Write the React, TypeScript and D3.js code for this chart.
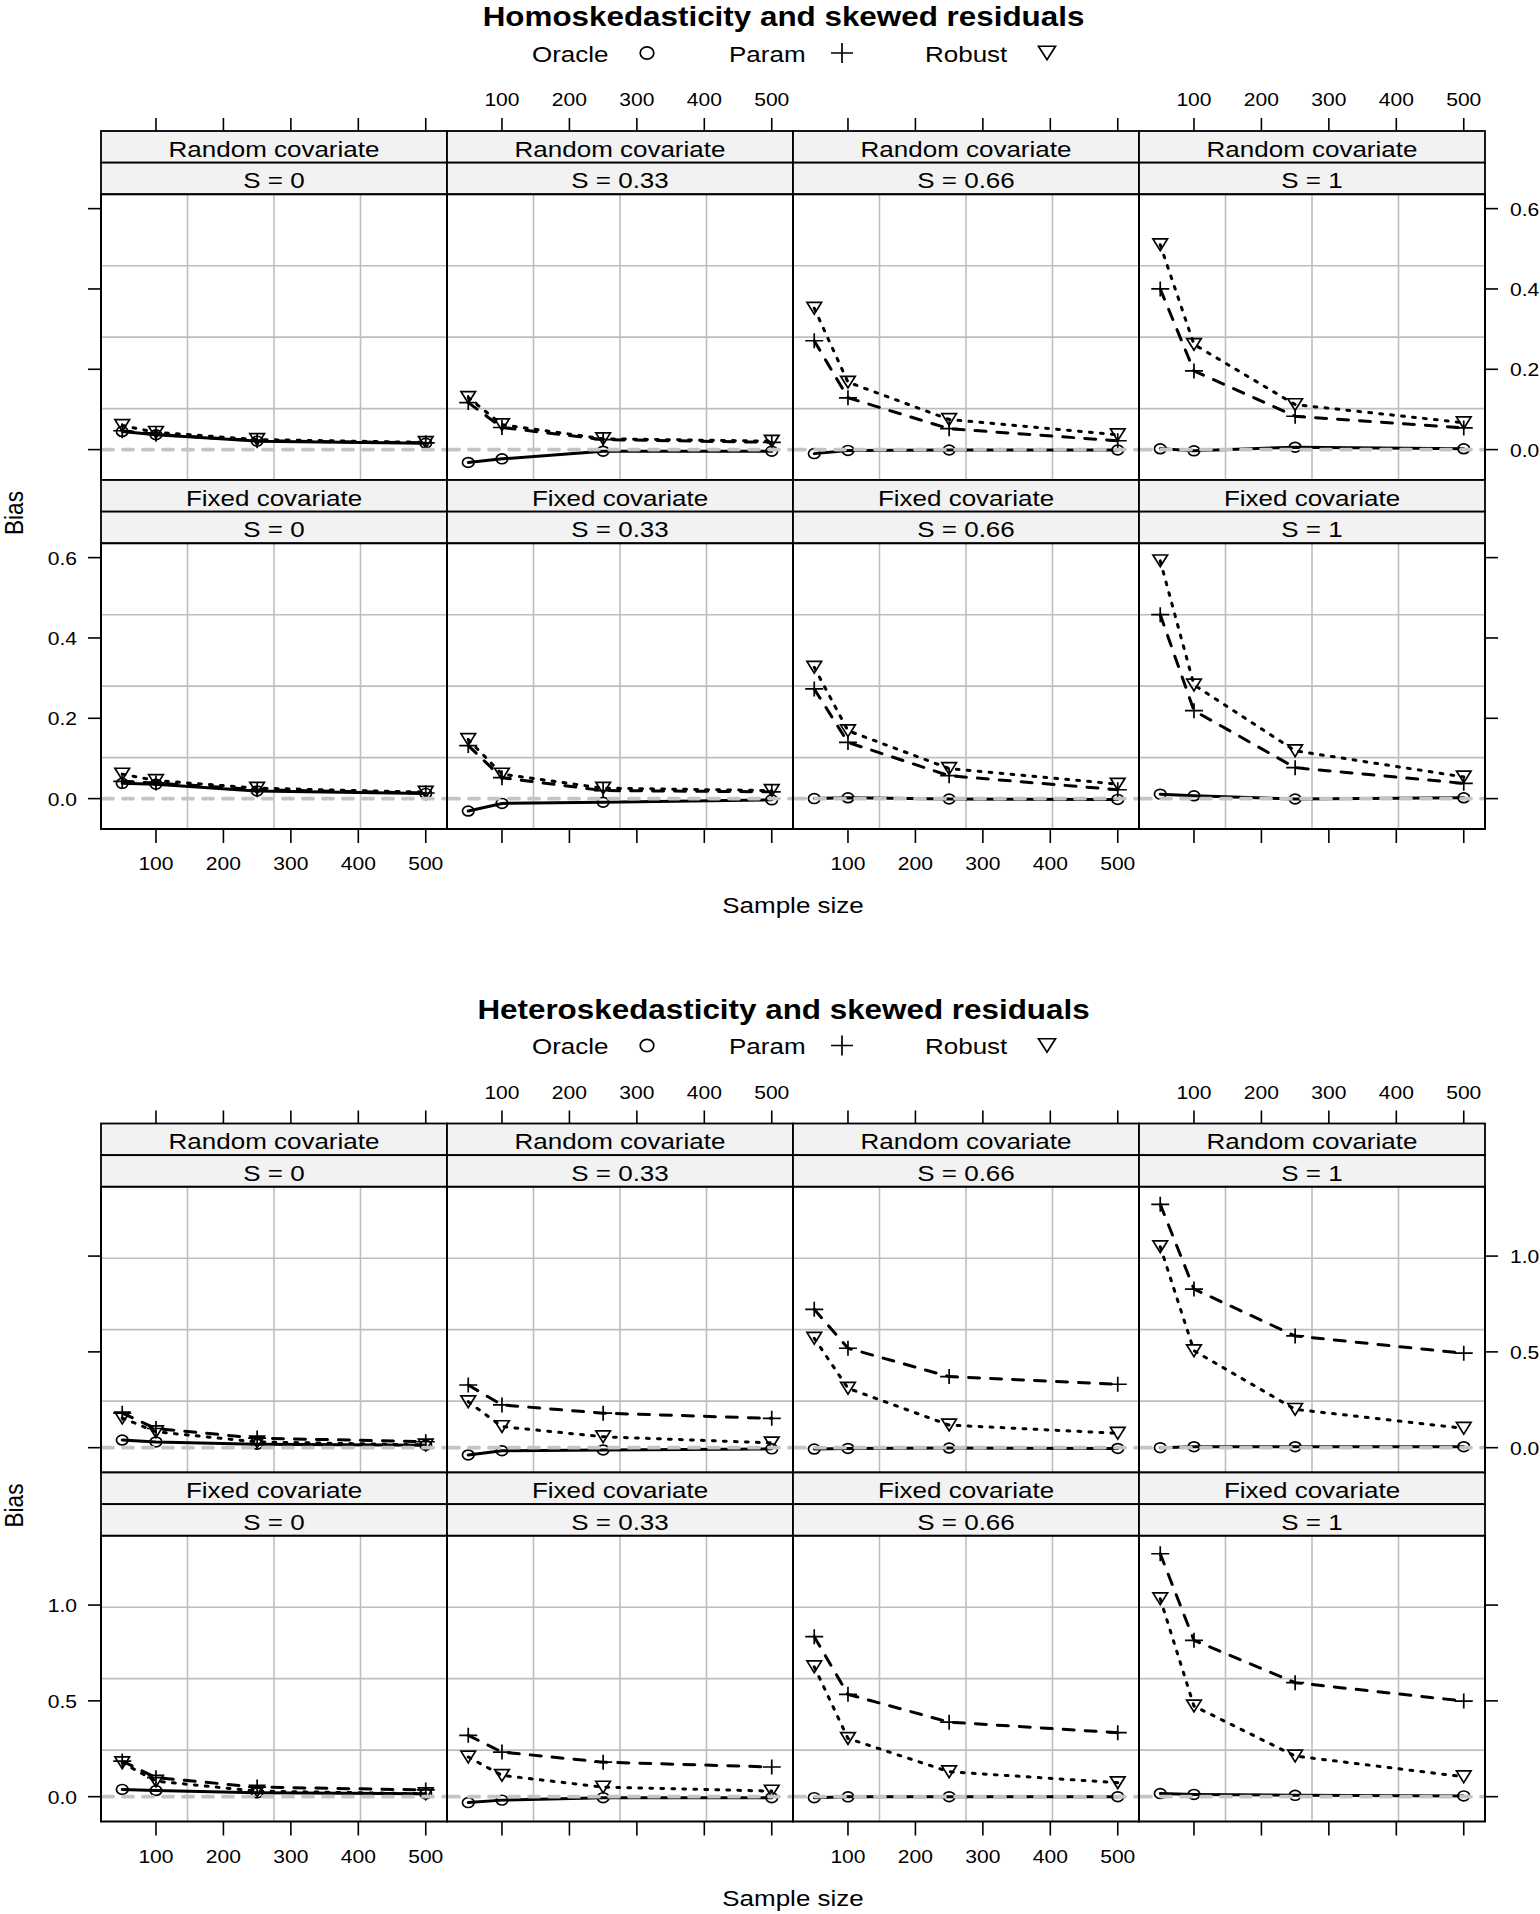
import React from 'react';
import * as d3 from 'd3';

// Sample sizes on the x axis and the tick labels
const sampleSizes = [50, 100, 250, 500];
const xTicks = [100, 200, 300, 400, 500];
const covariateLabels = ['Random covariate', 'Fixed covariate'];
const sLabels = ['S = 0', 'S = 0.33', 'S = 0.66', 'S = 1'];
const methodNames = ['Oracle', 'Param', 'Robust'];
const chartTitles = [
  'Homoskedasticity and skewed residuals',
  'Heteroskedasticity and skewed residuals',
];
const yTicksHomo = [0, 0.2, 0.4, 0.6];
const yTicksHetero = [0, 0.5, 1.0];

// Bias, one row per S level, one value per sample size
const homoRandomOracle = [
  [0.045, 0.037, 0.021, 0.016],
  [-0.032, -0.023, -0.004, -0.004],
  [-0.01, -0.002, -0.001, -0.001],
  [0.002, -0.003, 0.006, 0.002],
];
const homoRandomParam = [
  [0.047, 0.038, 0.022, 0.017],
  [0.117, 0.055, 0.025, 0.018],
  [0.271, 0.129, 0.052, 0.022],
  [0.4, 0.196, 0.083, 0.054],
];
const homoRandomRobust = [
  [0.06, 0.043, 0.025, 0.018],
  [0.13, 0.062, 0.027, 0.021],
  [0.352, 0.168, 0.075, 0.037],
  [0.51, 0.262, 0.112, 0.067],
];
const homoFixedOracle = [
  [0.038, 0.036, 0.019, 0.013],
  [-0.031, -0.012, -0.009, -0.003],
  [0.0, 0.002, -0.001, -0.002],
  [0.011, 0.007, -0.001, 0.002],
];
const homoFixedParam = [
  [0.043, 0.039, 0.022, 0.014],
  [0.132, 0.052, 0.02, 0.017],
  [0.273, 0.14, 0.057, 0.022],
  [0.458, 0.219, 0.077, 0.038],
];
const homoFixedRobust = [
  [0.061, 0.045, 0.026, 0.016],
  [0.147, 0.061, 0.026, 0.02],
  [0.327, 0.169, 0.075, 0.036],
  [0.592, 0.283, 0.119, 0.054],
];

const heteroRandomOracle = [
  [0.04, 0.03, 0.018, 0.013],
  [-0.038, -0.016, -0.012, -0.006],
  [-0.007, -0.004, -0.002, -0.004],
  [0.0, 0.005, 0.005, 0.005],
];
const heteroRandomParam = [
  [0.18, 0.1, 0.05, 0.031],
  [0.327, 0.223, 0.18, 0.153],
  [0.722, 0.519, 0.371, 0.331],
  [1.27, 0.828, 0.583, 0.493],
];
const heteroRandomRobust = [
  [0.155, 0.083, 0.03, 0.014],
  [0.24, 0.11, 0.057, 0.025],
  [0.571, 0.31, 0.118, 0.075],
  [1.049, 0.506, 0.2, 0.101],
];
const heteroFixedOracle = [
  [0.038, 0.032, 0.02, 0.015],
  [-0.031, -0.018, -0.005, -0.005],
  [-0.005, -0.001, 0.0, 0.0],
  [0.016, 0.012, 0.007, 0.004],
];
const heteroFixedParam = [
  [0.186, 0.099, 0.05, 0.035],
  [0.32, 0.233, 0.18, 0.155],
  [0.835, 0.534, 0.389, 0.334],
  [1.268, 0.816, 0.595, 0.499],
];
const heteroFixedRobust = [
  [0.177, 0.081, 0.029, 0.015],
  [0.207, 0.111, 0.05, 0.029],
  [0.678, 0.304, 0.13, 0.073],
  [1.033, 0.473, 0.212, 0.104],
];

const charts = [
  {
    title: chartTitles[0],
    yTicks: yTicksHomo,
    rows: [
      [homoRandomOracle, homoRandomParam, homoRandomRobust],
      [homoFixedOracle, homoFixedParam, homoFixedRobust],
    ],
  },
  {
    title: chartTitles[1],
    yTicks: yTicksHetero,
    rows: [
      [heteroRandomOracle, heteroRandomParam, heteroRandomRobust],
      [heteroFixedOracle, heteroFixedParam, heteroFixedRobust],
    ],
  },
];

// layout
const W = 1540;
const H = 1914;
const SX = 1.15; // the picture is stretched sideways
const FONT = '"Liberation Sans", Arial, Helvetica, sans-serif';
const chartOffsets = [0, 992.5];
const gridLeft = 101;
const colW = 346;
const rowTop = 131;
const stripH = 31.65;
const panelH = 285.7;
const rowH = 2 * stripH + panelH;
const nCols = 4;
const tickLen = 13;
const baseSize = 22.6;
const tickSize = 18.3;
const titleSize = 27.3;

const lineDash = [null, '11 11', '2.8 8.2'];

// lattice style padding of the data range
const padRange = (ext: [number, number], f = 0.07): [number, number] => {
  const r = ext[1] - ext[0];
  return [ext[0] - r * f, ext[1] + r * f];
};

const fmt = d3.format('.1f');

function T({ x, y, size = baseSize, anchor = 'middle', weight, rotate, children }: any) {
  const tr = `translate(${x},${y}) scale(${SX},1)` + (rotate ? ` rotate(${rotate})` : '');
  return (
    <text transform={tr} fontSize={size} textAnchor={anchor} fontWeight={weight} fontFamily={FONT} fill="#000">
      {children}
    </text>
  );
}

function Marker({ kind, x, y, big = false }: { kind: number; x: number; y: number; big?: boolean }) {
  const sw = 1.7;
  if (kind === 0) {
    return <ellipse cx={x} cy={y} rx={big ? 6.8 : 5.8} ry={big ? 6.1 : 4.9} fill="none" stroke="#000" strokeWidth={sw} />;
  }
  if (kind === 1) {
    const hx = big ? 11 : 9;
    const hy = big ? 10 : 7.5;
    return (
      <path d={`M${x - hx},${y}H${x + hx}M${x},${y - hy}V${y + hy}`} stroke="#000" strokeWidth={sw} fill="none" />
    );
  }
  const w = big ? 8.5 : 7.3;
  const h = big ? 13.5 : 11.7;
  return (
    <path
      d={`M${x - w},${y - h / 2}L${x + w},${y - h / 2}L${x},${y + h / 2}Z`}
      stroke="#000"
      strokeWidth={sw}
      fill="none"
      strokeLinejoin="miter"
    />
  );
}

function Chart({ chart, offset }: { chart: (typeof charts)[number]; offset: number }) {
  const allY = chart.rows.flat(3) as number[];
  const yDomain = padRange(d3.extent(allY) as [number, number]);
  const xDomain = padRange(d3.extent(sampleSizes) as [number, number]);
  const legendText = [532, 729, 925];
  const legendSym = [647, 842, 1047];

  return (
    <g transform={`translate(0,${offset})`}>
      <T x={783.5} y={26} size={titleSize} weight="bold">
        {chart.title}
      </T>
      {methodNames.map((m, i) => (
        <g key={m}>
          <T x={legendText[i]} y={61.5} anchor="start">
            {m}
          </T>
          <Marker kind={i} x={legendSym[i]} y={53} big />
        </g>
      ))}

      {chart.rows.map((rowData, r) => {
        const top = rowTop + r * rowH;
        const pTop = top + 2 * stripH;
        const pBot = pTop + panelH;
        const y = d3.scaleLinear().domain(yDomain).range([pBot, pTop]);
        const gridRight = gridLeft + nCols * colW;
        return (
          <g key={r}>
            {/* y ticks left and right */}
            {chart.yTicks.map((t) => (
              <g key={t}>
                <line x1={gridLeft - tickLen} x2={gridLeft} y1={y(t)} y2={y(t)} stroke="#000" strokeWidth={1.6} />
                <line x1={gridRight} x2={gridRight + tickLen} y1={y(t)} y2={y(t)} stroke="#000" strokeWidth={1.6} />
                {r === 1 && (
                  <T x={77} y={y(t) + 7} size={tickSize} anchor="end">
                    {fmt(t)}
                  </T>
                )}
                {r === 0 && (
                  <T x={gridRight + 25} y={y(t) + 7} size={tickSize} anchor="start">
                    {fmt(t)}
                  </T>
                )}
              </g>
            ))}

            {sLabels.map((s, c) => {
              const left = gridLeft + c * colW;
              const x = d3.scaleLinear().domain(xDomain).range([left, left + colW]);
              const series = rowData.map((m) => m[c]);
              const line = d3
                .line<number>()
                .x((_, i) => x(sampleSizes[i]))
                .y((v) => y(v));
              return (
                <g key={s}>
                  {/* strips */}
                  <rect x={left} y={top} width={colW} height={stripH} fill="#f2f2f2" stroke="#000" strokeWidth={1.8} />
                  <rect x={left} y={top + stripH} width={colW} height={stripH} fill="#f2f2f2" stroke="#000" strokeWidth={1.8} />
                  <T x={left + colW / 2} y={top + stripH / 2 + 10}>
                    {covariateLabels[r]}
                  </T>
                  <T x={left + colW / 2} y={top + stripH * 1.5 + 10}>
                    {s}
                  </T>

                  {/* panel */}
                  <rect x={left} y={pTop} width={colW} height={panelH} fill="#fff" />
                  {[1, 2, 3].map((k) => (
                    <g key={k}>
                      <line x1={left + (colW * k) / 4} x2={left + (colW * k) / 4} y1={pTop} y2={pBot} stroke="#bebebe" strokeWidth={1.6} />
                      <line x1={left} x2={left + colW} y1={pTop + (panelH * k) / 4} y2={pTop + (panelH * k) / 4} stroke="#bebebe" strokeWidth={1.6} />
                    </g>
                  ))}
                  {series.map((vals, mi) => (
                    <g key={mi}>
                      <path
                        d={line(vals) || ''}
                        fill="none"
                        stroke="#000"
                        strokeWidth={3}
                        strokeLinecap="round"
                        strokeDasharray={lineDash[mi] || undefined}
                      />
                      {vals.map((v, i) => (
                        <Marker key={i} kind={mi} x={x(sampleSizes[i])} y={y(v)} />
                      ))}
                    </g>
                  ))}
                  {/* zero reference, drawn over the data */}
                  <line
                    x1={left + 2}
                    x2={left + colW - 2}
                    y1={y(0)}
                    y2={y(0)}
                    stroke="#c4c4c4"
                    strokeWidth={3.8}
                    strokeDasharray="10 10"
                    strokeLinecap="round"
                  />
                  <rect x={left} y={pTop} width={colW} height={panelH} fill="none" stroke="#000" strokeWidth={2} />

                  {/* x axis ticks, alternating labels */}
                  {r === 0 &&
                    xTicks.map((t) => (
                      <g key={t}>
                        <line x1={x(t)} x2={x(t)} y1={top - tickLen} y2={top} stroke="#000" strokeWidth={1.6} />
                        {c % 2 === 1 && (
                          <T x={x(t)} y={top - 25} size={tickSize}>
                            {t}
                          </T>
                        )}
                      </g>
                    ))}
                  {r === 1 &&
                    xTicks.map((t) => (
                      <g key={t}>
                        <line x1={x(t)} x2={x(t)} y1={pBot} y2={pBot + tickLen + 1} stroke="#000" strokeWidth={1.6} />
                        {c % 2 === 0 && (
                          <T x={x(t)} y={pBot + 41} size={tickSize}>
                            {t}
                          </T>
                        )}
                      </g>
                    ))}
                </g>
              );
            })}
          </g>
        );
      })}

      <T x={gridLeft + (nCols * colW) / 2} y={913}>
        Sample size
      </T>
      <T x={23} y={513} rotate={-90}>
        Bias
      </T>
    </g>
  );
}

export default function App() {
  return (
    <svg
      width={W}
      height={H}
      viewBox={`0 0 ${W} ${H}`}
      style={{ position: 'absolute', left: 0, top: 0, background: '#fff' }}
    >
      <rect width={W} height={H} fill="#fff" />
      {charts.map((c, i) => (
        <Chart key={i} chart={c} offset={chartOffsets[i]} />
      ))}
    </svg>
  );
}
